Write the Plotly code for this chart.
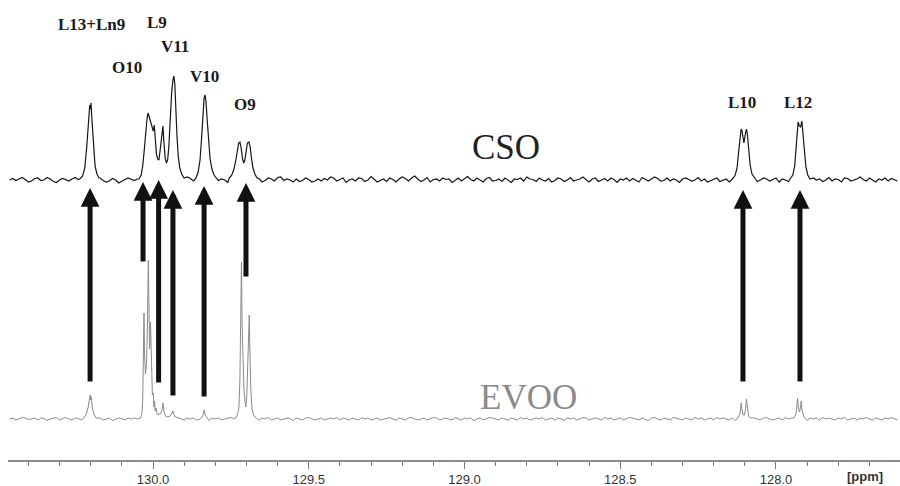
import plotly.graph_objects as go

# ---------------- data ----------------
# baseline sampling grid (ppm)
grid_ppm = [
    130.46, 130.45, 130.44, 130.43, 130.42, 130.41, 130.40, 130.39, 130.38, 130.37,
    130.36, 130.35, 130.34, 130.33, 130.32, 130.31, 130.30, 130.29, 130.28, 130.27,
    130.26, 130.25, 130.24, 130.23, 130.22, 130.21, 130.20, 130.19, 130.18, 130.17,
    130.16, 130.15, 130.14, 130.13, 130.12, 130.11, 130.10, 130.09, 130.08, 130.07,
    130.06, 130.05, 130.04, 130.03, 130.02, 130.01, 130.00, 129.99, 129.98, 129.97,
    129.96, 129.95, 129.94, 129.93, 129.92, 129.91, 129.90, 129.89, 129.88, 129.87,
    129.86, 129.85, 129.84, 129.83, 129.82, 129.81, 129.80, 129.79, 129.78, 129.77,
    129.76, 129.75, 129.74, 129.73, 129.72, 129.71, 129.70, 129.69, 129.68, 129.67,
    129.66, 129.65, 129.64, 129.63, 129.62, 129.61, 129.60, 129.59, 129.58, 129.57,
    129.56, 129.55, 129.54, 129.53, 129.52, 129.51, 129.50, 129.49, 129.48, 129.47,
    129.46, 129.45, 129.44, 129.43, 129.42, 129.41, 129.40, 129.39, 129.38, 129.37,
    129.36, 129.35, 129.34, 129.33, 129.32, 129.31, 129.30, 129.29, 129.28, 129.27,
    129.26, 129.25, 129.24, 129.23, 129.22, 129.21, 129.20, 129.19, 129.18, 129.17,
    129.16, 129.15, 129.14, 129.13, 129.12, 129.11, 129.10, 129.09, 129.08, 129.07,
    129.06, 129.05, 129.04, 129.03, 129.02, 129.01, 129.00, 128.99, 128.98, 128.97,
    128.96, 128.95, 128.94, 128.93, 128.92, 128.91, 128.90, 128.89, 128.88, 128.87,
    128.86, 128.85, 128.84, 128.83, 128.82, 128.81, 128.80, 128.79, 128.78, 128.77,
    128.76, 128.75, 128.74, 128.73, 128.72, 128.71, 128.70, 128.69, 128.68, 128.67,
    128.66, 128.65, 128.64, 128.63, 128.62, 128.61, 128.60, 128.59, 128.58, 128.57,
    128.56, 128.55, 128.54, 128.53, 128.52, 128.51, 128.50, 128.49, 128.48, 128.47,
    128.46, 128.45, 128.44, 128.43, 128.42, 128.41, 128.40, 128.39, 128.38, 128.37,
    128.36, 128.35, 128.34, 128.33, 128.32, 128.31, 128.30, 128.29, 128.28, 128.27,
    128.26, 128.25, 128.24, 128.23, 128.22, 128.21, 128.20, 128.19, 128.18, 128.17,
    128.16, 128.15, 128.14, 128.13, 128.12, 128.11, 128.10, 128.09, 128.08, 128.07,
    128.06, 128.05, 128.04, 128.03, 128.02, 128.01, 128.00, 127.99, 127.98, 127.97,
    127.96, 127.95, 127.94, 127.93, 127.92, 127.91, 127.90, 127.89, 127.88, 127.87,
    127.86, 127.85, 127.84, 127.83, 127.82, 127.81, 127.80, 127.79, 127.78, 127.77,
    127.76, 127.75, 127.74, 127.73, 127.72, 127.71, 127.70, 127.69, 127.68, 127.67,
    127.66, 127.65, 127.64, 127.63, 127.62, 127.61,
]

# baseline noise (intensity units)
cso_noise = [
    0, 1.5, -0.5, 1, 2.5, 0.5, -2, -1, 1.5, 2, -0.5, 0, 2.5, 1, -1.5, -2.5, 0, 1.5, 0.5, -1,
    1, 2.5, 0.5, -1, 0, 3, 1.5, -1, 0.5, 2, -0.5, -2, -1, 1.5, 0, -3, -1, 0.5, 2, 1,
    -0.5, 1, 2.5, 0, 0.5, -2, -0.5, 1.5, 2, -1, -1.5, 0.5, -2, 1.5, 0, -1, 1, 3, 1.5, -1,
    0.5, 2, -0.5, 1, -2, -1, 1.5, -0.5, 1, 0, -2.5, 0.5, 2, 1, -1, 0.5, -0.5, 2.5, -1, 0,
    1.5, -2, -0.5, 2, 1, -1, 2.5, 3, -0.5, 1, 0, -2, 1, -1.5, -0.5, 2, 0.5, -2, -1, 1,
    -1, 1.5, 0, 3, 2, -1, 0.5, 2, -2.5, 0, 1, -1, 2, 1.5, -1.5, 0, 3.5, 1, -2, -0.5,
    1, -1.5, 2, 0.5, -2, 1, 3, 1.5, -1, 2, 4, 1, -1.5, 0, 2.5, -2, 0.5, 1, -1, 2,
    0.5, 1, -2.5, -0.5, 2, -1, 1, 3.5, 0.5, -1, 2, 0, -2, 1.5, 2.5, -1, -0.5, 1, -1.5, 2,
    0, -2.5, 1, 0.5, 2, -1, 3, 1, 0.5, -1.5, 2, 0, -1, 1.5, -2, -0.5, 2, 1, -1.5, 0,
    2.5, -1, 0, 1, 3, 0.5, -2, 1, 2, -1.5, 0, 1.5, -1, 2, 0.5, -2.5, 1, 0, 2, -1,
    1.5, 0, -2, 2.5, 0.5, -1, 1, 3, 1.5, -1, -0.5, 2, -1, 1, 0, -2.5, 1, 2, 0.5, -1,
    0, 2.5, -1, 1, -2, -0.5, 1, 2, -1.5, 0, 1, -2, 2, 0.5, -1, 1.5, 0, 2.5, -1, 1,
    -1.5, 0, 2, 1, -1, 0.5, 2, -2, 1, 0, -1.5, 2, 0.5, 1, -2, 0, 1.5, -1, 2, 0,
    1, -1.5, 0, 2.5, -1, 1, 0.5, -2, 2, 1.5, -1, 0, 1, 3, 0.5, -1, 2, 0, -2, 1,
    0, 2, -1, 1.5, 0, -1,
]

# baseline noise
evoo_noise = [
    0, 1, -1, 0, 1.5, 1, -0.5, 0, 1, -1, 1, 0.5, -1.5, 0, 1, 1.5, -1, 0, 1.5, 0,
    -1, 1, 0.5, -1, 1, 2, 0, -1, 0, 1, -1, 0, 1, -1.5, 0, 1, 0.5, -1, 1, 0,
    1, 0, -1, 1, 0, 1.5, -1, 0, 1, 0, -1, 1, 0, -1, 1.5, 0, -1, 1, 0, 1,
    -1, 0, 1, 0.5, -1.5, 1, 0, 1, -1, 0, 1, 1.5, 0, -1, 0, 1, -1, 0, 1.5, 0,
    -1, 1, 0, 1.5, -1, 0, 1, -1, 0, 1, 0.5, -1.5, 1, 0, -1, 1, 1.5, 0, -1, 0,
    1, -1, 0, 1, 0, 1.5, -1, 1, 0, -1, 1, 0, -1, 1.5, 0, 1, -1, 0, 1, -1,
    0, 1, 1.5, 0, -1, 1, 0, -1, 1, 1.5, 0, -1, 0, 1, -1, 0, 1.5, 1, -1, 0,
    1, 0, -1, 1.5, 0, -1, 1, 0, 1, -1.5, 0, 1, -1, 0, 1.5, 1, 0, -1, 1, 0,
    -1, 1, 0, -1, 1.5, 0, 1, -1, 0, 1, 0, 1.5, -1, 0, 1, -1, 1, 0, -1.5, 1,
    0, 1, -1, 0, 1.5, 1, -1, 0, 1, 0, -1, 1.5, 0, 1, -1, 0, 1, -1, 0, 1.5,
    1, 0, -1, 1, 0, -1.5, 1, 1.5, 0, -1, 1, 0, -1, 1.5, 1, 0, -1, 1, 0, -1,
    1.5, 0, 1, -1, 0, 1, -1, 1.5, 0, 1, 0, -1, 1, -1.5, 0, 1, 1.5, 0, -1, 1,
    0, -1, 1, 1.5, 0, -1, 0, 1, -1, 1.5, 0, 1, -1, 0, 1, 0, -1.5, 1, 0, 1,
    -1, 1.5, 0, 1, 0, -1, 1, 0, 1.5, -1, 0, 1, -1, 1, 0, 1.5, 0, -1, 1, 0,
    -1, 1, 0, 1.5, 0, -1,
]

# CSO resonances (ppm, intensity above baseline)
cso_peak_ppm = [
    130.235, 130.226, 130.219, 130.213, 130.208, 130.205, 130.203, 130.201, 130.199, 130.196,
    130.191, 130.186, 130.180, 130.173,
    130.045, 130.038, 130.033, 130.028, 130.023, 130.019, 130.016, 130.012, 130.007, 130.002,
    129.999, 129.996, 129.993, 129.989, 129.985, 129.981, 129.977, 129.972, 129.968, 129.965,
    129.961, 129.957, 129.953, 129.949, 129.945, 129.940, 129.936, 129.933, 129.930, 129.927,
    129.923, 129.919, 129.914, 129.908, 129.900,
    129.862, 129.855, 129.849, 129.844, 129.840, 129.836, 129.833, 129.830, 129.826, 129.822,
    129.817, 129.811, 129.804, 129.797,
    129.755, 129.747, 129.740, 129.734, 129.729, 129.725, 129.721, 129.717, 129.713, 129.709,
    129.705, 129.701, 129.697, 129.692, 129.688, 129.684, 129.679, 129.673, 129.666,
    128.140, 128.131, 128.125, 128.120, 128.116, 128.112, 128.109, 128.106, 128.103, 128.099,
    128.095, 128.092, 128.088, 128.083, 128.077, 128.069,
    127.955, 127.946, 127.940, 127.935, 127.932, 127.929, 127.925, 127.921, 127.917, 127.913,
    127.909, 127.904, 127.898, 127.891,
]
cso_peak_int = [
    1, 4, 12, 32, 58, 72, 75, 71, 77, 60,
    32, 14, 6, 2,
    1, 5, 14, 30, 50, 62, 67, 63, 58, 54,
    49, 55, 42, 26, 21, 20, 30, 48, 54, 38,
    22, 17, 20, 34, 60, 88, 100, 104, 96, 70,
    44, 24, 12, 6, 2,
    2, 8, 20, 42, 66, 82, 85, 79, 60, 38,
    22, 11, 5, 2,
    2, 5, 11, 20, 30, 37, 38, 32, 22, 17,
    20, 29, 37, 38, 33, 22, 12, 6, 2,
    1, 5, 12, 28, 44, 51, 49, 40, 37, 45,
    51, 46, 30, 15, 6, 2,
    1, 5, 14, 32, 50, 58, 54, 53, 59, 46,
    28, 13, 5, 1,
]

# EVOO resonances (ppm, intensity above baseline)
evoo_peak_ppm = [
    130.222, 130.214, 130.208, 130.204, 130.202, 130.200, 130.198, 130.195, 130.190, 130.183,
    130.040, 130.036, 130.033, 130.031, 130.029, 130.027, 130.024, 130.021, 130.018, 130.015,
    130.013, 130.011, 130.008, 130.006, 130.004, 130.002, 129.999, 129.997, 129.995, 129.993,
    129.990, 129.987, 129.983, 129.979, 129.975, 129.971, 129.968, 129.965, 129.960, 129.953,
    129.945, 129.940, 129.936, 129.933, 129.929,
    129.845, 129.840, 129.836, 129.832, 129.826,
    129.735, 129.729, 129.724, 129.721, 129.718, 129.716, 129.714, 129.711, 129.708, 129.705,
    129.702, 129.699, 129.696, 129.693, 129.691, 129.689, 129.686, 129.682, 129.676, 129.669,
    128.122, 128.117, 128.114, 128.112, 128.109, 128.106, 128.102, 128.098, 128.095, 128.092,
    128.088, 128.082,
    127.942, 127.937, 127.934, 127.931, 127.928, 127.925, 127.922, 127.919, 127.916, 127.910,
]
evoo_peak_int = [
    1, 5, 12, 20, 24, 19, 22, 12, 5, 1,
    1, 5, 18, 60, 106, 62, 45, 55, 90, 159,
    110, 70, 97, 60, 38, 24, 26, 12, 18, 8,
    11, 5, 4, 6, 5, 9, 16, 8, 3, 2,
    3, 5, 8, 6, 2,
    1, 3, 9, 4, 1,
    1, 4, 12, 40, 100, 157, 95, 50, 30, 18,
    12, 22, 55, 90, 104, 70, 30, 10, 3, 1,
    1, 4, 9, 16, 9, 4, 4, 9, 20, 9,
    3, 1,
    1, 4, 9, 21, 12, 7, 10, 18, 8, 2,
]

cso_offset = 280
evoo_offset = 41

peak_labels = ["L13+Ln9", "L9", "V11", "O10", "V10", "O9", "L10", "L12"]
label_ppm = [130.197, 129.986, 129.928, 130.082, 129.836, 129.705, 128.110, 127.929]
label_int = [436, 437.5, 414, 393, 384, 356, 357.5, 357.5]

arrow_ppm = [130.202, 130.032, 129.982, 129.936, 129.836, 129.7015, 128.106, 127.923]
arrow_from = [77, 197, 76, 63, 62, 182, 77, 77]
arrow_to = [272, 278, 280, 270, 274, 277, 270, 270]

x_ticks = [130.0, 129.5, 129.0, 128.5, 128.0]
x_tick_text = ["130.0", "129.5", "129.0", "128.5", "128.0"]


def build(noise, pk_ppm, pk_int, offset):
    pts = sorted(zip(pk_ppm, pk_int), reverse=True)
    spans = []
    start = pts[0][0]
    prev = start
    for p, _ in pts[1:]:
        if prev - p > 0.03:
            spans.append((prev, start))
            start = p
        prev = p
    spans.append((prev, start))
    merged = [(g, n) for g, n in zip(grid_ppm, noise)
              if not any(lo - 0.003 <= g <= hi + 0.003 for lo, hi in spans)]
    merged += pts
    merged.sort(reverse=True)
    return [a for a, _ in merged], [b + offset for _, b in merged]


cx, cy = build(cso_noise, cso_peak_ppm, cso_peak_int, cso_offset)
ex, ey = build(evoo_noise, evoo_peak_ppm, evoo_peak_int, evoo_offset)

fig = go.Figure()
fig.add_trace(go.Scatter(x=ex, y=ey, mode="lines",
                         line=dict(color="#8a8a8a", width=1), hoverinfo="skip"))
fig.add_trace(go.Scatter(x=cx, y=cy, mode="lines",
                         line=dict(color="#151515", width=1.2), hoverinfo="skip"))

serif = "Liberation Serif, Times New Roman, serif"

for t, xp, yp in zip(peak_labels, label_ppm, label_int):
    fig.add_annotation(x=xp, y=yp, xref="x", yref="y", text="<b>%s</b>" % t,
                       showarrow=False, font=dict(family=serif, size=17, color="#1a1a1a"))

fig.add_annotation(x=128.867, y=313, xref="x", yref="y", text="CSO", showarrow=False,
                   font=dict(family=serif, size=35, color="#222222"))
fig.add_annotation(x=128.796, y=63, xref="x", yref="y", text="EVOO", showarrow=False,
                   font=dict(family=serif, size=35, color="#8a8a8a"))

for xp, y0, y1 in zip(arrow_ppm, arrow_from, arrow_to):
    fig.add_annotation(x=xp, y=y1, ax=xp, ay=y0, xref="x", yref="y", axref="x", ayref="y",
                       text="", showarrow=True, arrowhead=2, arrowsize=0.75,
                       arrowwidth=5, arrowcolor="#111111", standoff=0)

fig.add_annotation(x=127.714, y=-0.035, xref="x", yref="paper", yanchor="middle",
                   text="<b>[ppm]</b>", showarrow=False,
                   font=dict(family="Liberation Sans, Arial", size=13, color="#333333"))

fig.update_layout(
    width=900, height=486,
    margin=dict(l=8, r=0, t=0, b=26),
    paper_bgcolor="white", plot_bgcolor="white",
    showlegend=False,
    xaxis=dict(range=[130.4655, 127.6019], showgrid=False, zeroline=False,
               showline=True, linecolor="#8c8c8c", linewidth=1.5,
               ticks="outside", ticklen=7, tickwidth=1.2, tickcolor="#777777",
               tickvals=x_ticks, ticktext=x_tick_text,
               tickfont=dict(family="Liberation Sans, Arial", size=13, color="#333333"),
               minor=dict(dtick=0.1, tick0=130.0, ticks="outside", ticklen=4,
                          tickcolor="#777777", tickwidth=1.2, showgrid=False)),
    yaxis=dict(range=[0, 460], visible=False, showgrid=False, zeroline=False),
)

fig.write_html("out.html")
